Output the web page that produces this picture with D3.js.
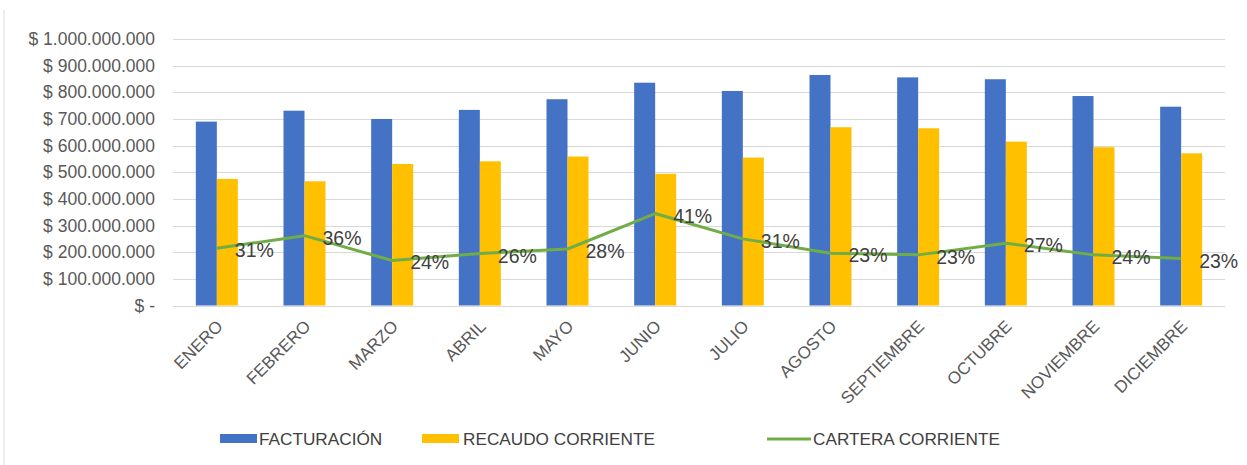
<!DOCTYPE html>
<html>
<head>
<meta charset="utf-8">
<script src="https://cdn.jsdelivr.net/npm/d3@7"></script>
<style>
  html, body { margin: 0; padding: 0; background: #fff; }
  svg { display: block; font-family: "Liberation Sans", Arial, sans-serif; }
</style>
</head>
<body>
<svg id="chart" width="1247" height="465"></svg>
<script>
const months = ["ENERO","FEBRERO","MARZO","ABRIL","MAYO","JUNIO","JULIO","AGOSTO","SEPTIEMBRE","OCTUBRE","NOVIEMBRE","DICIEMBRE"];
const facturacion = [690e6, 731e6, 700e6, 734e6, 774e6, 836e6, 805e6, 865e6, 856e6, 849e6, 786e6, 746e6];
const recaudo = [475e6, 466e6, 531e6, 541e6, 559e6, 494e6, 555e6, 669e6, 665e6, 615e6, 594e6, 571e6];
const cartera = [215e6, 262e6, 169e6, 195e6, 212e6, 345e6, 250e6, 196e6, 190e6, 234e6, 190e6, 176e6];
const carteraLabels = ["31%","36%","24%","26%","28%","41%","31%","23%","23%","27%","24%","23%"];
const yTicks = [0, 100e6, 200e6, 300e6, 400e6, 500e6, 600e6, 700e6, 800e6, 900e6, 1000e6];
const seriesNames = ["FACTURACIÓN","RECAUDO CORRIENTE","CARTERA CORRIENTE"];
const colors = ["#4472C4", "#FFC000", "#70AD47"];

(function () {
const svg = d3.select("#chart");
const pLeft = 173, pRight = 1225, pTop = 39, pBottom = 305.5;

const x = d3.scaleBand().domain(months).range([pLeft, pRight]).padding(0);
const y = d3.scaleLinear().domain([0, 1000e6]).range([pBottom, pTop]);
const barW = 21;
const xs = d3.scaleBand().domain([0, 1]).range([-barW, barW]).padding(0);

// frame line at left
svg.append("line").attr("x1", 4).attr("x2", 4).attr("y1", 10).attr("y2", 465)
  .attr("stroke", "#d9d9d9").attr("stroke-width", 1);

// gridlines
svg.append("g").selectAll("line").data(yTicks).join("line")
  .attr("x1", pLeft).attr("x2", pRight)
  .attr("y1", d => Math.round(y(d)) + 0.5).attr("y2", d => Math.round(y(d)) + 0.5)
  .attr("stroke", "#d9d9d9").attr("stroke-width", 1);

// y labels
const fmt = v => v === 0 ? "$ -" : "$ " + d3.format(",")(v).replace(/,/g, ".");
const yAxis = d3.axisLeft(y).tickValues(yTicks).tickFormat(fmt).tickSize(0).tickPadding(0);
const gy = svg.append("g").attr("transform", `translate(155,0)`).call(yAxis);
gy.select(".domain").remove();
gy.selectAll("text").attr("font-size", "17.5px").attr("fill", "#595959")
  .attr("font-family", "Liberation Sans, Arial, sans-serif");

// bars
const series = [facturacion, recaudo];
series.forEach((vals, si) => {
  svg.append("g").selectAll("rect").data(vals).join("rect")
    .attr("x", (d, i) => x(months[i]) + x.bandwidth() / 2 + xs(si))
    .attr("width", xs.bandwidth())
    .attr("y", d => y(d))
    .attr("height", d => y(0) - y(d))
    .attr("fill", colors[si]);
});

// line
const cx = i => x(months[i]) + x.bandwidth() / 2;
const line = d3.line().x((d, i) => cx(i)).y(d => y(d));
svg.append("path").datum(cartera).attr("d", line)
  .attr("fill", "none").attr("stroke", colors[2]).attr("stroke-width", 3)
  .attr("stroke-linejoin", "round");

// data labels
svg.append("g").selectAll("text").data(cartera).join("text")
  .attr("x", (d, i) => cx(i) + 18)
  .attr("y", d => y(d) + 2)
  .attr("dominant-baseline", "central")
  .attr("font-size", "19.5px").attr("fill", "#404040")
  .text((d, i) => carteraLabels[i]);

// x labels
const xAxis = d3.axisBottom(x).tickSize(0).tickPadding(0);
const gx = svg.append("g").attr("transform", `translate(0,${pBottom})`).call(xAxis);
gx.select(".domain").remove();
gx.selectAll("text")
  .attr("font-size", "17px").attr("fill", "#595959")
  .attr("font-family", "Liberation Sans, Arial, sans-serif")
  .attr("text-anchor", "end")
  .attr("dy", null)
  .attr("transform", "translate(7,22) rotate(-45)");

// legend
const legendItems = [
  {name: seriesNames[0], color: colors[0], type: "rect", sx: 220, tx: 259},
  {name: seriesNames[1], color: colors[1], type: "rect", sx: 422, tx: 463},
  {name: seriesNames[2], color: colors[2], type: "line", sx: 767, tx: 813}
];
const ly = 439;
const lg = svg.append("g");
legendItems.forEach(it => {
  if (it.type === "rect") {
    lg.append("rect").attr("x", it.sx).attr("y", ly - 5).attr("width", 37).attr("height", 9).attr("fill", it.color);
  } else {
    lg.append("line").attr("x1", it.sx).attr("x2", it.sx + 44).attr("y1", ly).attr("y2", ly)
      .attr("stroke", it.color).attr("stroke-width", 3);
  }
  lg.append("text").attr("x", it.tx).attr("y", ly).attr("dominant-baseline", "central")
    .attr("font-size", "17.2px").attr("fill", "#404040").text(it.name);
});
})();
</script>
</body>
</html>
